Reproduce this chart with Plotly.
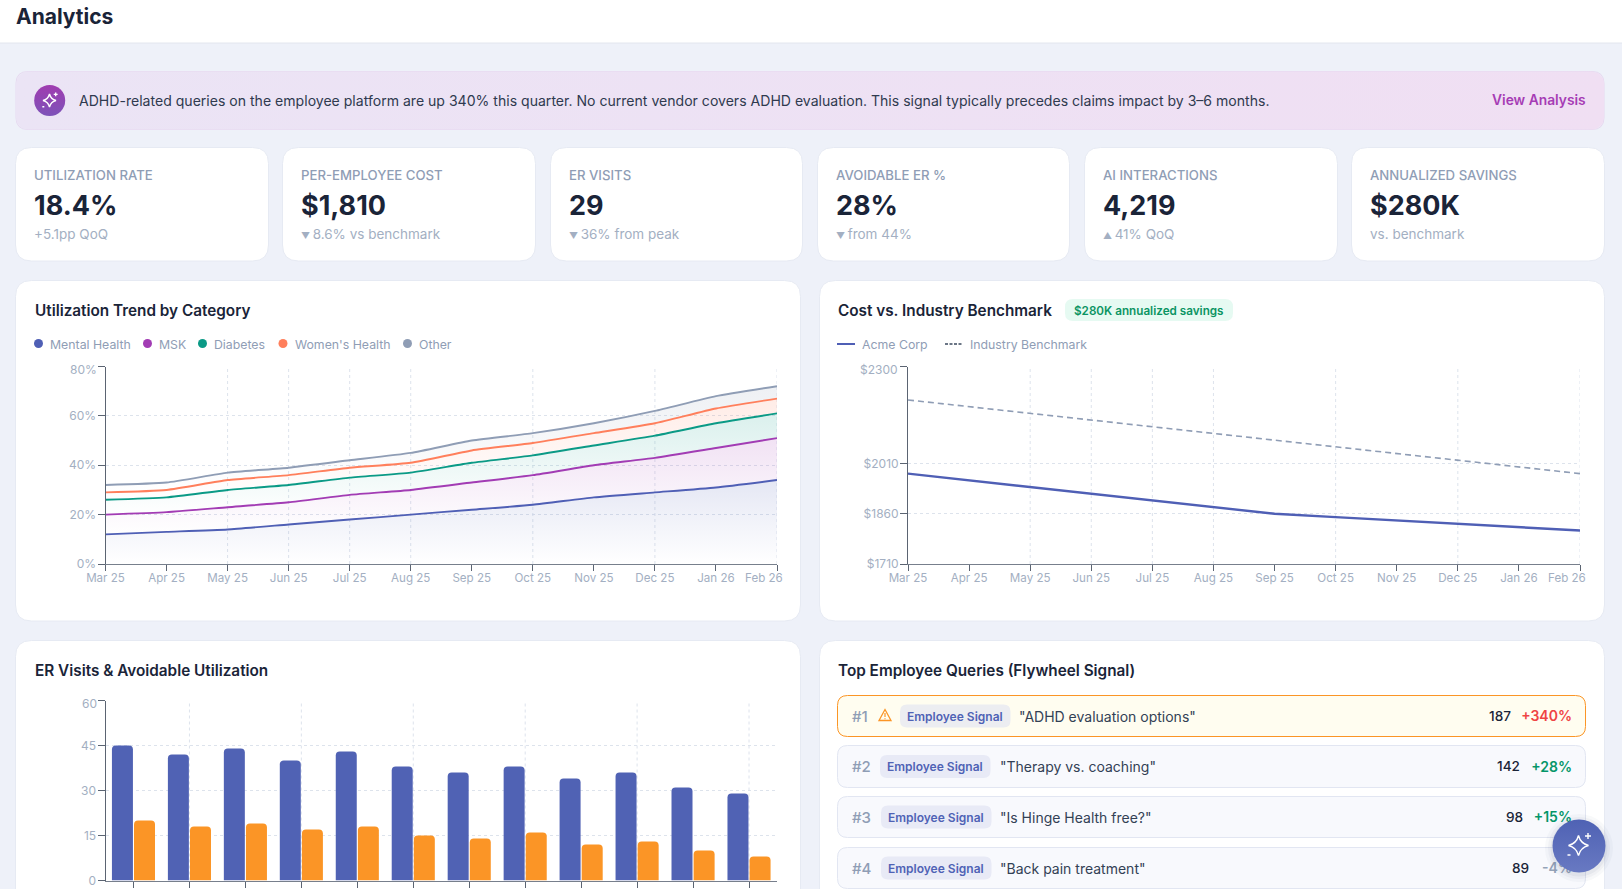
import numpy as np
import plotly.graph_objects as go

W, H = 1622, 889
FONT = "Inter"
INK = "#1a2438"
MUTED = "#8f9db5"
SOFT = "#a3afc2"
GRID = "#dde3ec"
AXIS = "#5b6472"

months = ["Mar 25", "Apr 25", "May 25", "Jun 25", "Jul 25", "Aug 25",
          "Sep 25", "Oct 25", "Nov 25", "Dec 25", "Jan 26", "Feb 26"]
grid_months = ["May 25", "Jun 25", "Jul 25", "Aug 25", "Oct 25", "Dec 25", "Feb 26"]
bar_grid_months = ["Apr 25", "Jun 25", "Aug 25", "Oct 25", "Dec 25", "Feb 26"]

# stacked levels
mental_health = [12, 13, 14, 16, 18, 20, 22, 24, 27, 29, 31, 34]
msk = [20, 21, 23, 25, 28, 30, 33, 36, 40, 43, 47, 51]
diabetes = [26, 27, 30, 32, 35, 37, 41, 44, 48, 52, 57, 61]
womens_health = [29, 30, 34, 36, 39, 41, 46, 49, 53, 57, 63, 67]
other = [32, 33, 37, 39, 42, 45, 50, 53, 57, 62, 68, 72]
pct_ticks = [0, 20, 40, 60, 80]
pct_labels = ["0%", "20%", "40%", "60%", "80%"]

acme_cost = [1980, 1960, 1940, 1920, 1900, 1880, 1860, 1850, 1840, 1830, 1820, 1810]
benchmark_cost = [2200, 2180, 2160, 2140, 2120, 2100, 2080, 2060, 2040, 2020, 2000, 1980]
cost_ticks = [1710, 1860, 2010, 2300]
cost_labels = ["$1710", "$1860", "$2010", "$2300"]

er_visits = [45, 42, 44, 40, 43, 38, 36, 38, 34, 36, 31, 29]
avoidable_er = [20, 18, 19, 17, 18, 15, 14, 16, 12, 13, 10, 8]
er_ticks = [0, 15, 30, 45, 60]
er_labels = ["0", "15", "30", "45", "60"]

kpi_labels = ["UTILIZATION RATE", "PER-EMPLOYEE COST", "ER VISITS",
              "AVOIDABLE ER %", "AI INTERACTIONS", "ANNUALIZED SAVINGS"]
kpi_values = ["18.4%", "$1,810", "29", "28%", "4,219", "$280K"]
kpi_notes = ["+5.1pp QoQ", "▼ 8.6% vs benchmark", "▼ 36% from peak",
             "▼ from 44%", "▲ 41% QoQ", "vs. benchmark"]
kpi_left = [16, 283, 551, 818, 1085, 1352]
kpi_right = [268, 535, 802, 1069, 1337, 1604]

query_ranks = ["#1", "#2", "#3", "#4"]
query_texts = ['"ADHD evaluation options"', '"Therapy vs. coaching"',
               '"Is Hinge Health free?"', '"Back pain treatment"']
query_counts = ["187", "142", "98", "89"]
query_deltas = ["+340%", "+28%", "+15%", "-4%"]
delta_colors = ["#ef4444", "#059669", "#059669", "#94a3b8"]
count_right = [1511, 1520, 1523, 1529]
row_top = [695.5, 745.5, 796.5, 847.5]
row_bottom = [736.5, 787.5, 837.5, 888.5]
pill_left = [900, 880, 881, 881]
query_left = [1018, 999, 999, 999]


def fx(x):
    return x / W


def fy(y):
    return 1 - y / H


def rrect(x0, y0, x1, y1, r):
    return (f"M{fx(x0 + r)},{fy(y0)} L{fx(x1 - r)},{fy(y0)} Q{fx(x1)},{fy(y0)} {fx(x1)},{fy(y0 + r)} "
            f"L{fx(x1)},{fy(y1 - r)} Q{fx(x1)},{fy(y1)} {fx(x1 - r)},{fy(y1)} "
            f"L{fx(x0 + r)},{fy(y1)} Q{fx(x0)},{fy(y1)} {fx(x0)},{fy(y1 - r)} "
            f"L{fx(x0)},{fy(y0 + r)} Q{fx(x0)},{fy(y0)} {fx(x0 + r)},{fy(y0)} Z")


shapes = []
annotations = []


def box(x0, y0, x1, y1, r, fill, border=None, width=1, layer="below"):
    shapes.append(dict(type="path", path=rrect(x0, y0, x1, y1, r), xref="paper", yref="paper",
                       fillcolor=fill, layer=layer,
                       line=dict(color=border or fill, width=width if border else 0)))


def text(x, y, s, size, color, weight=400, anchor="left"):
    annotations.append(dict(x=fx(x), y=fy(y), xref="paper", yref="paper", text=s, showarrow=False,
                            xanchor=anchor, yanchor="middle", borderpad=0,
                            font=dict(family=FONT, size=size, color=color, weight=weight)))


def sparkle(cx, cy, r):
    # four point star with a small plus and dot, used on both round buttons
    k = 0.2 * r
    p = (f"M{fx(cx)},{fy(cy - r)} Q{fx(cx + k)},{fy(cy - k)} {fx(cx + r)},{fy(cy)} "
         f"Q{fx(cx + k)},{fy(cy + k)} {fx(cx)},{fy(cy + r)} "
         f"Q{fx(cx - k)},{fy(cy + k)} {fx(cx - r)},{fy(cy)} "
         f"Q{fx(cx - k)},{fy(cy - k)} {fx(cx)},{fy(cy - r)} Z")
    shapes.append(dict(type="path", path=p, xref="paper", yref="paper", layer="above",
                       line=dict(color="white", width=1.4)))
    q = r * 0.95
    s = r * 0.3
    p2 = (f"M{fx(cx + q - s)},{fy(cy - q)} L{fx(cx + q + s)},{fy(cy - q)} "
          f"M{fx(cx + q)},{fy(cy - q - s)} L{fx(cx + q)},{fy(cy - q + s)} "
          f"M{fx(cx - q - s * 0.5)},{fy(cy + q)} L{fx(cx - q + s * 0.5)},{fy(cy + q)}")
    shapes.append(dict(type="path", path=p2, xref="paper", yref="paper", layer="above",
                       line=dict(color="white", width=1.4)))


# header
shapes.append(dict(type="rect", xref="paper", yref="paper", x0=0, x1=1, y0=fy(43), y1=1,
                   fillcolor="white", line=dict(width=0), layer="below"))
shapes.append(dict(type="line", xref="paper", yref="paper", x0=0, x1=1, y0=fy(43), y1=fy(43),
                   line=dict(color="#e2e6ee", width=1), layer="below"))
text(15, 16, "Analytics", 21, INK, 700)

# banner text, its fill is a trace further down
box(16, 71.5, 1604, 129.5, 12, "rgba(0,0,0,0)", "#e6d8f0")
text(77.5, 100.5, "ADHD-related queries on the employee platform are up 340% this quarter. "
     "No current vendor covers ADHD evaluation. This signal typically precedes claims impact by 3–6 months.",
     14.07, "#2f3a4f")
text(1586.5, 100, "View Analysis", 13.8, "#a63cb5", 600, "right")

# KPI cards
for i in range(6):
    box(kpi_left[i] - 0.5, 147.5, kpi_right[i] + 0.5, 261, 16, "white", "#e6eaf3")
    tx = kpi_left[i] + 17
    text(tx, 175.5, kpi_labels[i], 13.2, MUTED, 500)
    text(tx, 206, kpi_values[i], 27, INK, 700)
    note = kpi_notes[i].replace("▼ ", "<span style='font-size:9px'>▼ </span>")
    note = note.replace("▲ ", "<span style='font-size:9px'>▲ </span>")
    text(tx, 234.5, note, 13.5, SOFT)

# panels
for x0, x1 in [(15.5, 800.5), (819.5, 1604.5)]:
    box(x0, 280.5, x1, 621, 16, "white", "#e6eaf3")
    box(x0, 640.5, x1, 905, 16, "white", "#e6eaf3")

text(33.5, 310.5, "Utilization Trend by Category", 15.3, INK, 600)
text(837, 310.5, "Cost vs. Industry Benchmark", 15.3, INK, 600)
text(33.5, 670.5, "ER Visits &amp; Avoidable Utilization", 15.3, INK, 600)
text(837, 670.5, "Top Employee Queries (Flywheel Signal)", 15.3, INK, 600)

box(1065, 299, 1233, 321, 8, "#e6faf2")
text(1073, 311, "$280K annualized savings", 11.7, "#0b9463", 600)

# legends
utilization_series = [("Mental Health", mental_health, "#4f5fb5", "79,95,181"),
                      ("MSK", msk, "#a23cb4", "162,60,180"),
                      ("Diabetes", diabetes, "#0b9a86", "11,154,134"),
                      ("Women's Health", womens_health, "#ff7f5c", "255,127,92"),
                      ("Other", other, "#8f9db5", "143,157,181")]
legend_dot = [38.5, 147.5, 202.5, 283, 407.5]
for (name, _, color, _), dx in zip(utilization_series, legend_dot):
    shapes.append(dict(type="circle", xref="paper", yref="paper", x0=fx(dx - 4.5), x1=fx(dx + 4.5),
                       y0=fy(343.5 + 4.5), y1=fy(343.5 - 4.5), fillcolor=color, line=dict(width=0),
                       layer="below"))
    text(dx + 10.5, 344.5, name, 12.3, MUTED)

shapes.append(dict(type="line", xref="paper", yref="paper", x0=fx(837), x1=fx(855), y0=fy(344), y1=fy(344),
                   line=dict(color="#4f5fb5", width=2), layer="below"))
shapes.append(dict(type="line", xref="paper", yref="paper", x0=fx(945), x1=fx(963), y0=fy(344), y1=fy(344),
                   line=dict(color="#3b4a5f", width=1.5, dash="3px,1.5px"), layer="below"))
text(861, 344.5, "Acme Corp", 12.3, MUTED)
text(969, 344.5, "Industry Benchmark", 12.3, MUTED)

# query rows
for i in range(4):
    if i == 0:
        box(837.5, row_top[i], 1585.5, row_bottom[i], 10, "#fffdf0", "#fb9526")
    else:
        box(837.5, row_top[i], 1585.5, row_bottom[i], 10, "#f8f9fd", "#e2e6f2")
    cy = (row_top[i] + row_bottom[i]) / 2
    text(851.5, cy, query_ranks[i], 15, MUTED, 500)
    box(pill_left[i], cy - 11.5, pill_left[i] + 110.5, cy + 11.5, 7, "#ecedf1" if i == 0 else "#e8eaf6")
    text(pill_left[i] + 55.25, cy, "Employee Signal", 12, "#4f62b5", 600, "center")
    text(query_left[i], cy, query_texts[i], 14, "#334155")

# warning triangle on the first row
shapes.append(dict(type="path", xref="paper", yref="paper", layer="below",
                   path=f"M{fx(885)},{fy(709.5)} L{fx(891)},{fy(720.5)} L{fx(879)},{fy(720.5)} Z",
                   line=dict(color="#fb9526", width=1.3)))
shapes.append(dict(type="path", xref="paper", yref="paper", layer="below",
                   path=f"M{fx(885)},{fy(713)} L{fx(885)},{fy(717)} M{fx(885)},{fy(718.2)} L{fx(885)},{fy(719.2)}",
                   line=dict(color="#fb9526", width=1.2)))

fig = go.Figure()

# utilization chart
prev = None
for name, values, color, rgb in utilization_series:
    low = 0 if prev is None else min(prev)
    fig.add_trace(go.Scatter(
        x=months, y=values, name=name, mode="lines", xaxis="x", yaxis="y", showlegend=False,
        line=dict(color=color, width=1.9, shape="spline", smoothing=0.5),
        fill="tozeroy" if prev is None else "tonexty",
        fillgradient=dict(type="vertical", start=max(values), stop=low,
                          colorscale=[[0, f"rgba({rgb},0.15)"], [1, f"rgba({rgb},0)"]]),
    ))
    prev = values

# cost chart
fig.add_trace(go.Scatter(x=months, y=benchmark_cost, name="Industry Benchmark", mode="lines",
                         xaxis="x2", yaxis="y2", showlegend=False,
                         line=dict(color="#8f9db5", width=1.6, dash="6px,4px")))
fig.add_trace(go.Scatter(x=months, y=acme_cost, name="Acme Corp", mode="lines",
                         xaxis="x2", yaxis="y2", showlegend=False,
                         line=dict(color="#4f5fb5", width=2.4)))

# ER chart
fig.add_trace(go.Bar(x=months, y=er_visits, name="ER Visits", xaxis="x3", yaxis="y3", showlegend=False,
                     marker=dict(color="#5062b4", cornerradius=4, line=dict(width=0))))
fig.add_trace(go.Bar(x=months, y=avoidable_er, name="Avoidable", xaxis="x3", yaxis="y3", showlegend=False,
                     marker=dict(color="#fb9526", cornerradius=4, line=dict(width=0))))

# page overlay in pixels: banner fill, right hand query columns, floating button
t = np.linspace(0, np.pi / 2, 8)
r = 12
bx = np.concatenate([1604 - r + r * np.sin(t), 1604 - r + r * np.cos(t),
                     16 + r - r * np.sin(t), 16 + r - r * np.cos(t)])
by = np.concatenate([71.5 + r - r * np.cos(t), 129.5 - r + r * np.sin(t),
                     129.5 - r + r * np.cos(t), 71.5 + r - r * np.sin(t)])
fig.add_trace(go.Scatter(x=bx, y=by, mode="lines", fill="toself", line=dict(width=0), xaxis="x4", yaxis="y4",
                         hoverinfo="skip", showlegend=False,
                         fillgradient=dict(type="horizontal", start=16, stop=1604,
                                           colorscale=[[0, "#ebe4f5"], [1, "#f0dff3"]])))
fig.add_trace(go.Scatter(x=[49.7], y=[100.5], mode="markers", xaxis="x4", yaxis="y4", hoverinfo="skip",
                         showlegend=False,
                         marker=dict(size=31, color="#a03cb0", line=dict(width=0),
                                     gradient=dict(type="vertical", color="#7d52b8"))))

row_mid = [(a + b) / 2 + 1.5 for a, b in zip(row_top, row_bottom)]
fig.add_trace(go.Scatter(x=count_right, y=row_mid, text=query_counts, mode="text", textposition="middle left",
                         xaxis="x4", yaxis="y4", hoverinfo="skip", showlegend=False,
                         textfont=dict(family=FONT, size=13.6, color=INK, weight=500)))
fig.add_trace(go.Scatter(x=[1572] * 4, y=row_mid, text=query_deltas, mode="text", textposition="middle left",
                         xaxis="x4", yaxis="y4", hoverinfo="skip", showlegend=False,
                         textfont=dict(family=FONT, size=14, color=delta_colors, weight=600)))
for size, alpha in [(68, 0.03), (62, 0.04), (57, 0.05)]:
    fig.add_trace(go.Scatter(x=[1579], y=[848], mode="markers", xaxis="x4", yaxis="y4", hoverinfo="skip",
                             showlegend=False,
                             marker=dict(size=size, color=f"rgba(40,50,90,{alpha})", line=dict(width=0))))
fig.add_trace(go.Scatter(x=[1579], y=[846], mode="markers", xaxis="x4", yaxis="y4", hoverinfo="skip",
                         showlegend=False,
                         marker=dict(size=53, color="#4f62b4", line=dict(width=0),
                                     gradient=dict(type="vertical", color="#6879c2"))))
sparkle(1578.5, 845.5, 10)
sparkle(49.5, 100.5, 6.5)

# gridlines fall only on every other month or so in the source
for month in grid_months:
    for xr, yr in [("x", "y domain"), ("x2", "y2 domain")]:
        shapes.append(dict(type="line", xref=xr, yref=yr, x0=month, x1=month, y0=0, y1=1, layer="below",
                           line=dict(color=GRID, width=1, dash="3px,3px")))
for month in bar_grid_months:
    shapes.append(dict(type="line", xref="x3", yref="y3 domain", x0=month, x1=month, y0=0, y1=1, layer="below",
                       line=dict(color=GRID, width=1, dash="3px,3px")))

# Feb 26 is pulled inside the card in the source
for xr in [784, 1587]:
    text(xr, 578, "Feb 26", 11.6, SOFT, 400, "right")

# top y labels sit a little below their tick in the source
text(98, 369.5, pct_labels[-1], 12, SOFT, 400, "right")
text(898.5, 369.5, cost_labels[-1], 12, SOFT, 400, "right")
text(98, 703.5, er_labels[-1], 12, SOFT, 400, "right")

xfont = dict(family=FONT, size=11.6, color=SOFT)
yfont = dict(family=FONT, size=12, color=SOFT)
line_ticktext = months[:-1] + [""]


def x_axis(left, right, labels, rng, anchor, show_labels=True):
    return dict(domain=[fx(left), fx(right)], type="category", categoryorder="array", categoryarray=months,
                range=rng, anchor=anchor, showgrid=False, zeroline=False, showline=True, linecolor="#777f8c",
                linewidth=1.4, ticks="outside", ticklen=6, tickcolor=AXIS, tickwidth=1, tickfont=xfont,
                tickmode="array", tickvals=months, ticktext=labels, tickangle=0, fixedrange=True,
                automargin=False, ticklabelstandoff=-3, showticklabels=show_labels)


def y_axis(top, bottom, vals, labels, rng, anchor):
    return dict(domain=[fy(bottom), fy(top)], range=rng, anchor=anchor, showgrid=True, gridcolor=GRID,
                griddash="3px,3px", gridwidth=1, zeroline=False, showline=True, linecolor=AXIS, linewidth=1,
                ticks="outside", ticklen=7, tickcolor=AXIS, tickfont=yfont, tickmode="array",
                tickvals=vals, ticktext=labels[:-1] + [""], ticklabelstandoff=-1, fixedrange=True,
                automargin=False)


fig.update_layout(
    template="none",
    width=W, height=H, margin=dict(l=0, r=0, t=0, b=0), autosize=False,
    paper_bgcolor="#eef1f9", plot_bgcolor="rgba(0,0,0,0)",
    font=dict(family=FONT), showlegend=False, hovermode="closest",
    barmode="group", bargap=0.21, bargroupgap=0.05,
    xaxis=x_axis(105.5, 777, line_ticktext, [0, 11], "y"),
    yaxis=y_axis(366.5, 564, pct_ticks, pct_labels, [0, 80], "x"),
    xaxis2=x_axis(908, 1580, line_ticktext, [0, 11], "y2"),
    yaxis2=y_axis(366.5, 564, cost_ticks, cost_labels, [1710, 2300], "x2"),
    # month labels of the ER chart sit below the fold of the page
    xaxis3=x_axis(105.5, 777, months, [-0.5, 11.5], "y3", show_labels=False),
    yaxis3=y_axis(700.5, 880.5, er_ticks, er_labels, [0, 60], "x3"),
    xaxis4=dict(domain=[0, 1], range=[0, W], visible=False, fixedrange=True, anchor="y4", automargin=False),
    yaxis4=dict(domain=[0, 1], range=[H, 0], visible=False, fixedrange=True, anchor="x4", automargin=False),
    shapes=shapes, annotations=annotations,
)

fig.write_html("out.html", config=dict(displayModeBar=False),
               post_script="document.body.style.margin='0';document.body.style.overflow='hidden';")
